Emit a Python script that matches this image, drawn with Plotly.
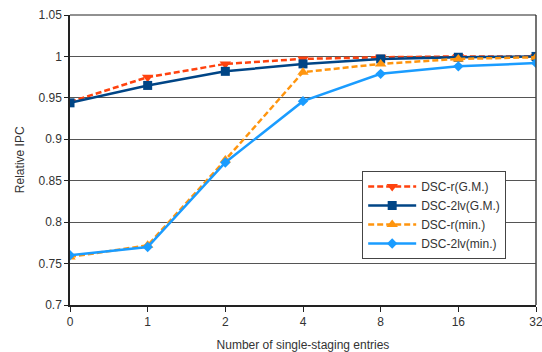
import plotly.graph_objects as go

categories = ["0", "1", "2", "4", "8", "16", "32"]
dsc_r_gm = [0.945, 0.975, 0.991, 0.997, 0.999, 1.0, 1.0]
dsc_2lv_gm = [0.944, 0.965, 0.982, 0.991, 0.997, 0.999, 1.0]
dsc_r_min = [0.758, 0.772, 0.875, 0.981, 0.991, 0.997, 0.999]
dsc_2lv_min = [0.760, 0.770, 0.872, 0.946, 0.979, 0.988, 0.992]
y_ticks = [0.7, 0.75, 0.8, 0.85, 0.9, 0.95, 1, 1.05]
y_ticktext = ["0.7", "0.75", "0.8", "0.85", "0.9", "0.95", "1", "1.05"]

fig = go.Figure()
fig.add_trace(go.Scatter(x=categories, y=dsc_r_gm, name="DSC-r(G.M.)", mode="lines+markers",
                         line=dict(color="#ff420e", width=2.5, dash="6px,3px"),
                         marker=dict(symbol="triangle-down", size=10, color="#ff420e")))
fig.add_trace(go.Scatter(x=categories, y=dsc_2lv_gm, name="DSC-2lv(G.M.)", mode="lines+markers",
                         line=dict(color="#004586", width=2.5),
                         marker=dict(symbol="square", size=9, color="#004586")))
fig.add_trace(go.Scatter(x=categories, y=dsc_r_min, name="DSC-r(min.)", mode="lines+markers",
                         line=dict(color="#ff950e", width=2.5, dash="6px,3px"),
                         marker=dict(symbol="triangle-up", size=10, color="#ff950e")))
fig.add_trace(go.Scatter(x=categories, y=dsc_2lv_min, name="DSC-2lv(min.)", mode="lines+markers",
                         line=dict(color="#1a9cff", width=2.5),
                         marker=dict(symbol="diamond", size=8, color="#1a9cff")))

font = "Liberation Sans, Arial, sans-serif"
fig.update_layout(
    width=542, height=352,
    margin=dict(l=70, r=6, t=15, b=47),
    paper_bgcolor="white", plot_bgcolor="white",
    font=dict(family=font, size=12, color="#333"),
    showlegend=True,
    legend=dict(x=0.627, y=0.462, xanchor="left", yanchor="top",
                bordercolor="#444", borderwidth=1, bgcolor="white",
                font=dict(size=12, color="#333"), tracegroupgap=0,
                itemwidth=48),
    xaxis=dict(type="category", range=[0, 6], showgrid=False, automargin=False,
               showline=True, linecolor="#222", linewidth=1.5, mirror=False,
               ticks="outside", ticklen=5, tickcolor="#222",
               tickfont=dict(size=12, color="#333"),
               title=dict(text="Number of single-staging entries",
                          font=dict(size=12, color="#333"))),
    yaxis=dict(range=[0.7, 1.05], tickvals=y_ticks, ticktext=y_ticktext,
               showgrid=True, gridcolor="#555", gridwidth=1, automargin=False,
               showline=True, linecolor="#222", linewidth=1.5,
               ticks="outside", ticklen=4, tickcolor="#222", zeroline=False,
               tickfont=dict(size=12, color="#333")),
)
fig.add_annotation(text="Relative IPC", xref="paper", yref="paper",
                   x=-0.107, y=0.5, xanchor="center", yanchor="middle",
                   textangle=-90, showarrow=False,
                   font=dict(size=12, color="#333", family=font))
# right border line of the plot box
fig.add_shape(type="line", xref="paper", yref="paper", x0=1, x1=1, y0=0, y1=1,
              line=dict(color="#444", width=1.5))
fig.add_shape(type="line", xref="paper", yref="paper", x0=0, x1=1, y0=1, y1=1,
              line=dict(color="#222", width=1))

fig.write_html("out.html")
